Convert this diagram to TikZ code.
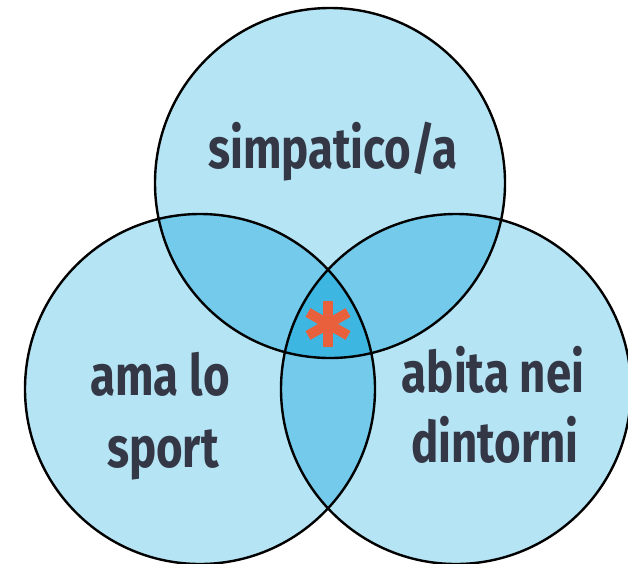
\documentclass[tikz,border=0pt]{standalone}
\usepackage{fontspec}
\usetikzlibrary{calc}
\newfontfamily\hand{Fira Sans}[FakeStretch=0.8]
\definecolor{lightblue}{RGB}{181,228,244}
\definecolor{midblue}{RGB}{115,202,234}
\definecolor{darkblue}{RGB}{62,182,226}
\definecolor{inkcol}{RGB}{52,56,70}
\definecolor{starcol}{RGB}{232,97,60}
\begin{document}
\begin{tikzpicture}[x=1pt,y=-1pt,
  outline/.style={draw=black,line width=2.4pt},
  label/.style={text=inkcol,font=\hand\bfseries\fontsize{57}{60}\selectfont,anchor=base,inner sep=0pt},
  starbar/.style={draw=starcol,line width=10pt}]
\useasboundingbox (0,0) rectangle (628,563);
\clip (0,0) rectangle (628,563);
\coordinate (T) at (330,183);
\coordinate (L) at (200,389);
\coordinate (R) at (456,389);
% base fills
\fill[lightblue] (T) circle[radius=175pt];
\fill[lightblue] (L) circle[radius=175pt];
\fill[lightblue] (R) circle[radius=175pt];
% pairwise overlaps
\begin{scope}
  \clip (T) circle[radius=175pt];
  \fill[midblue] (L) circle[radius=175pt];
  \fill[midblue] (R) circle[radius=175pt];
\end{scope}
\begin{scope}
  \clip (L) circle[radius=175pt];
  \fill[midblue] (R) circle[radius=175pt];
\end{scope}
% triple overlap
\begin{scope}
  \clip (T) circle[radius=175pt];
  \clip (L) circle[radius=175pt];
  \fill[darkblue] (R) circle[radius=175pt];
\end{scope}
% outlines
\draw[outline] (T) circle[radius=175pt];
\draw[outline] (L) circle[radius=175pt];
\draw[outline] (R) circle[radius=175pt];
% asterisk
\coordinate (S) at (328,324);
\draw[starbar] ($(S)+(0,-23)$) -- ($(S)+(0,23)$);
\draw[starbar] ($(S)+(-20,-11.5)$) -- ($(S)+(20,11.5)$);
\draw[starbar] ($(S)+(-20,11.5)$) -- ($(S)+(20,-11.5)$);
% labels
\node[label] (simp) at (333,168) {simpatico/a};
\node[label] (ama) at (160,395) {ama lo};
\node[label] (sport) at (163,467) {sport};
\node[label] (abita) at (493,392) {abita nei};
\node[label] (dint) at (495,462) {dintorni};
\end{tikzpicture}
\end{document}
